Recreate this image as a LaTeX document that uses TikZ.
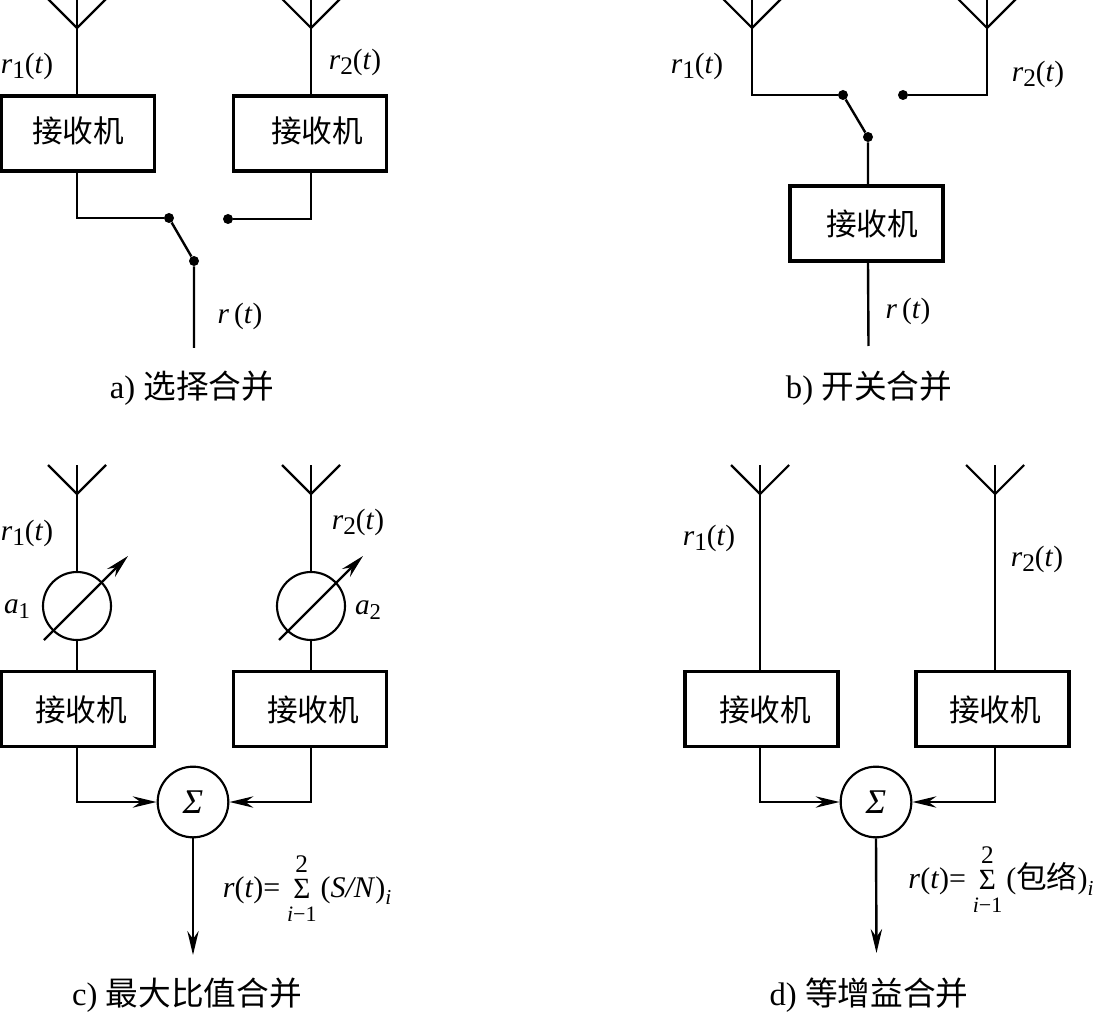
\documentclass[tikz,border=0pt]{standalone}
\usepackage{fontspec}
\setmainfont{Liberation Serif}
\newfontfamily\cjk{Noto Sans CJK SC}
\usetikzlibrary{arrows.meta}
\newcommand{\sz}[1]{\fontsize{#1}{#1}\selectfont}
\newcommand{\ital}[1]{\textit{#1}}
\newcommand{\rsub}[1]{\ital{r}\raisebox{-4pt}{\sz{19}#1}(\ital{t})}
\newcommand{\asub}[1]{\ital{a}\raisebox{-4pt}{\sz{17}#1}}
\newcommand{\sumst}[1]{{\fontsize{17}{17}\selectfont\begin{tabular}[c]{@{}c@{}}\sz{19}2\\\sz{22}Σ\\\sz{16.5}#1\end{tabular}}}
\tikzset{
  wire/.style={line width=1.8pt,draw=black},
  thinw/.style={line width=1.6pt,draw=black},
  rx/.style={draw=black,line width=2.7pt,minimum width=115pt,minimum height=56pt,inner sep=0pt,fill=white},
  rxlabel/.style={inner sep=0pt,font=\cjk\sz{23}},
  caption/.style={inner sep=0pt,font=\sz{24.5}},
  sig/.style={inner sep=0pt,font=\sz{22}},
  formula/.style={inner sep=0pt,font=\sz{22.5}},
  dot/.style={circle,fill=black,minimum size=7.5pt,inner sep=0pt},
  gain/.style={circle,draw=black,line width=1.6pt,minimum size=51pt,inner sep=0pt},
  summer/.style={circle,draw=black,line width=1.6pt,minimum size=53pt,inner sep=0pt,font=\itshape\sz{26}},
  tip/.style={-{Stealth[length=18pt,width=8.5pt,inset=6pt]}}
}
% \antenna{name}{x}{tip y}{top y}
\newcommand{\antenna}[4]{%
  \coordinate (#1) at (#2,#3);
  \coordinate (#1s) at (#2,#4);
  \coordinate (#1l) at (#2-29,#4);
  \coordinate (#1r) at (#2+29,#4);
  \draw[thinw] (#1l) -- (#1) -- (#1r);
  \draw[wire] (#1s) -- (#1);
}
\begin{document}
\begin{tikzpicture}[x=0.75pt,y=-0.75pt]
\useasboundingbox (0,0) rectangle (1096,1012);
%% panel a
\antenna{aA}{77}{28}{-1}
\antenna{aB}{311}{28}{-1}
\node[rx] (aR1) at (78,133.5) {};
\node[rx] (aR2) at (310,133.5) {};
\node[rxlabel] (aT1) at (78,131) {接收机};
\node[rxlabel] (aT2) at (317,131) {接收机};
\draw[wire] (aA) -- (aA|-aR1.north);
\draw[wire] (aB) -- (aB|-aR2.north);
\node[dot] (aS1) at (169,218) {};
\node[dot] (aS2) at (228,219) {};
\node[dot] (aS3) at (194,261) {};
\coordinate (aE) at (194,348);
\draw[wire] (aA|-aR1.south) |- (aS1);
\draw[wire] (aB|-aR2.south) |- (aS2);
\draw[wire] (aS1) -- (aS3) -- (aE);
\node[sig] (aL1) at (27,66) {\rsub{1}};
\node[sig] (aL2) at (355,62) {\rsub{2}};
\node[sig] (aL3) at (240,316) {\ital{r}\,(\ital{t})};
\node[caption] (aC) at (192,388) {a) {\cjk 选择合并}};
%% panel b
\antenna{bA}{752}{28}{-1}
\antenna{bB}{987}{28}{-1}
\node[dot] (bS1) at (843,95) {};
\node[dot] (bS2) at (903,95) {};
\node[dot] (bS3) at (868,137) {};
\node[rx] (bR) at (866.5,223.5) {};
\node[rxlabel] (bT) at (872,224) {接收机};
\coordinate (bE) at (868.5,346);
\draw[wire] (bA) |- (bS1);
\draw[wire] (bB) |- (bS2);
\draw[wire] (bS1) -- (bS3) -- (bS3|-bR.north);
\draw[wire] (bS3|-bR.south) -- (bE);
\node[sig] (bL1) at (697,66) {\rsub{1}};
\node[sig] (bL2) at (1038,74) {\rsub{2}};
\node[sig] (bL3) at (908,311) {\ital{r}\,(\ital{t})};
\node[caption] (bC) at (869,388) {b) {\cjk 开关合并}};
%% panel c
\antenna{cA}{77}{494}{465}
\antenna{cB}{311}{494}{465}
\node[gain] (cG1) at (77,606) {};
\node[gain] (cG2) at (311,606) {};
\coordinate (cG1a) at (44,640); \coordinate (cG1b) at (128,556);
\coordinate (cG2a) at (279,640); \coordinate (cG2b) at (363,556);
\draw[thinw,tip] (cG1a) -- (cG1b);
\draw[thinw,tip] (cG2a) -- (cG2b);
\node[rx] (cR1) at (78,709) {};
\node[rx] (cR2) at (310,709) {};
\node[rxlabel] (cT1) at (81,709.5) {接收机};
\node[rxlabel] (cT2) at (313,709.5) {接收机};
\draw[wire] (cA) -- (cG1);
\draw[wire] (cB) -- (cG2);
\draw[wire] (cG1) -- (cG1|-cR1.north);
\draw[wire] (cG2) -- (cG2|-cR2.north);
\node[summer] (cS) at (193,802) {Σ};
\draw[wire,tip] (cG1|-cR1.south) |- (cS.west);
\draw[wire,tip] (cG2|-cR2.south) |- (cS.east);
\coordinate (cE) at (193,955);
\draw[wire,tip] (cS.south) -- (cE);
\node[sig] (cL1) at (27,533) {\rsub{1}};
\node[sig] (cL2) at (358,522) {\rsub{2}};
\node[sig] (cL3) at (17,609) {\asub{1}};
\node[sig] (cL4) at (368,610) {\asub{2}};
\node[formula] (cF) at (307,892) {\ital{r}(\ital{t})=\hspace{5pt}\sumst{\ital{i}−1}\hspace{3pt}(\ital{S/N})\raisebox{-5pt}{\sz{16}\ital{i}}};
\node[caption] (cC) at (187,995.5) {c) {\cjk 最大比值合并}};
%% panel d
\antenna{dA}{760}{494}{465}
\antenna{dB}{995}{494}{465}
\node[rx] (dR1) at (761.5,709) {};
\node[rx] (dR2) at (992.5,709) {};
\node[rxlabel] (dT1) at (765,709.5) {接收机};
\node[rxlabel] (dT2) at (995,709.5) {接收机};
\draw[wire] (dA) -- (dA|-dR1.north);
\draw[wire] (dB) -- (dB|-dR2.north);
\node[summer] (dS) at (876,802) {Σ};
\draw[wire,tip] (dA|-dR1.south) |- (dS.west);
\draw[wire,tip] (dB|-dR2.south) |- (dS.east);
\coordinate (dE) at (876.5,953);
\draw[wire,tip] (dS.south) -- (dE);
\node[sig] (dL1) at (709,538) {\rsub{1}};
\node[sig] (dL2) at (1037,559) {\rsub{2}};
\node[formula] (dF) at (1001,883) {\ital{r}(\ital{t})=\hspace{5pt}\sumst{\ital{i}−1}\hspace{3pt}({\cjk\sz{23}包络})\raisebox{-5pt}{\sz{16}\ital{i}}};
\node[caption] (dC) at (869,995.5) {d) {\cjk 等增益合并}};
\end{tikzpicture}
\end{document}
